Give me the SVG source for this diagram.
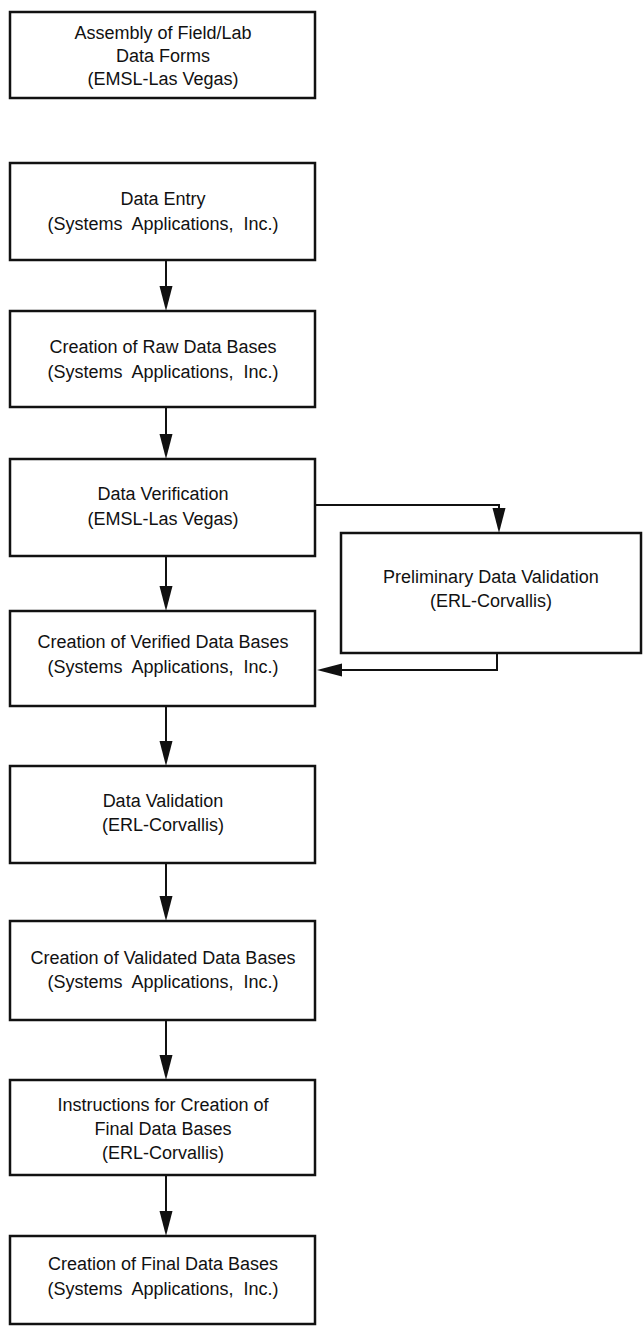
<svg xmlns="http://www.w3.org/2000/svg" width="644" height="1329" viewBox="0 0 644 1329">
<style>
  .box { fill: #fff; stroke: #111; stroke-width: 2.5; }
  .t { font-family: "Liberation Sans", Arial, sans-serif; font-size: 18px; fill: #111; text-anchor: middle; }
  .org { word-spacing: 5px; }
  .ln { fill: none; stroke: #111; stroke-width: 2; }
  .ah { fill: #111; stroke: none; }
</style>
<rect width="644" height="1329" fill="#fff"/>

<g id="n1">
  <rect class="box" x="10" y="12" width="305" height="86"/>
  <text class="t" x="163" y="39">Assembly of Field/Lab</text>
  <text class="t" x="163" y="62">Data Forms</text>
  <text class="t" x="163" y="85">(EMSL-Las Vegas)</text>
</g>
<g id="n2">
  <rect class="box" x="10" y="163" width="305" height="97"/>
  <text class="t" x="163" y="205">Data Entry</text>
  <text class="t org" x="163" y="230">(Systems Applications, Inc.)</text>
</g>
<g id="n3">
  <rect class="box" x="10" y="311" width="305" height="96"/>
  <text class="t" x="163" y="353">Creation of Raw Data Bases</text>
  <text class="t org" x="163" y="378">(Systems Applications, Inc.)</text>
</g>
<g id="n4">
  <rect class="box" x="10" y="459" width="305" height="97"/>
  <text class="t" x="163" y="500">Data Verification</text>
  <text class="t" x="163" y="525">(EMSL-Las Vegas)</text>
</g>
<g id="n5">
  <rect class="box" x="10" y="611" width="305" height="95"/>
  <text class="t" x="163" y="648">Creation of Verified Data Bases</text>
  <text class="t org" x="163" y="673">(Systems Applications, Inc.)</text>
</g>
<g id="n6">
  <rect class="box" x="10" y="766" width="305" height="97"/>
  <text class="t" x="163" y="807">Data Validation</text>
  <text class="t" x="163" y="831">(ERL-Corvallis)</text>
</g>
<g id="n7">
  <rect class="box" x="10" y="921" width="305" height="99"/>
  <text class="t" x="163" y="964">Creation of Validated Data Bases</text>
  <text class="t org" x="163" y="988">(Systems Applications, Inc.)</text>
</g>
<g id="n8">
  <rect class="box" x="10" y="1080" width="305" height="95"/>
  <text class="t" x="163" y="1111">Instructions for Creation of</text>
  <text class="t" x="163" y="1135">Final Data Bases</text>
  <text class="t" x="163" y="1159">(ERL-Corvallis)</text>
</g>
<g id="n9">
  <rect class="box" x="10" y="1236" width="305" height="88"/>
  <text class="t" x="163" y="1270">Creation of Final Data Bases</text>
  <text class="t org" x="163" y="1295">(Systems Applications, Inc.)</text>
</g>
<g id="n10">
  <rect class="box" x="341" y="533" width="300" height="120"/>
  <text class="t" x="491" y="583">Preliminary Data Validation</text>
  <text class="t" x="491" y="607">(ERL-Corvallis)</text>
</g>

<g id="connectors">
  <line class="ln" x1="166" y1="260" x2="166" y2="290"/>
  <polygon class="ah" points="159.5,286 172.5,286 166,311"/>
  <line class="ln" x1="166" y1="407" x2="166" y2="438"/>
  <polygon class="ah" points="159.5,434 172.5,434 166,459"/>
  <line class="ln" x1="166" y1="556" x2="166" y2="590"/>
  <polygon class="ah" points="159.5,586 172.5,586 166,611"/>
  <line class="ln" x1="166" y1="706" x2="166" y2="745"/>
  <polygon class="ah" points="159.5,741 172.5,741 166,766"/>
  <line class="ln" x1="166" y1="863" x2="166" y2="900"/>
  <polygon class="ah" points="159.5,896 172.5,896 166,921"/>
  <line class="ln" x1="166" y1="1020" x2="166" y2="1059"/>
  <polygon class="ah" points="159.5,1055 172.5,1055 166,1080"/>
  <line class="ln" x1="166" y1="1175" x2="166" y2="1215"/>
  <polygon class="ah" points="159.5,1211 172.5,1211 166,1236"/>
  <polyline class="ln" points="315,505 499,505 499,512"/>
  <polygon class="ah" points="492.5,508 505.5,508 499,533"/>
  <polyline class="ln" points="497,653 497,670 338,670"/>
  <polygon class="ah" points="342,663.5 342,676.5 317,670"/>
</g>
</svg>
